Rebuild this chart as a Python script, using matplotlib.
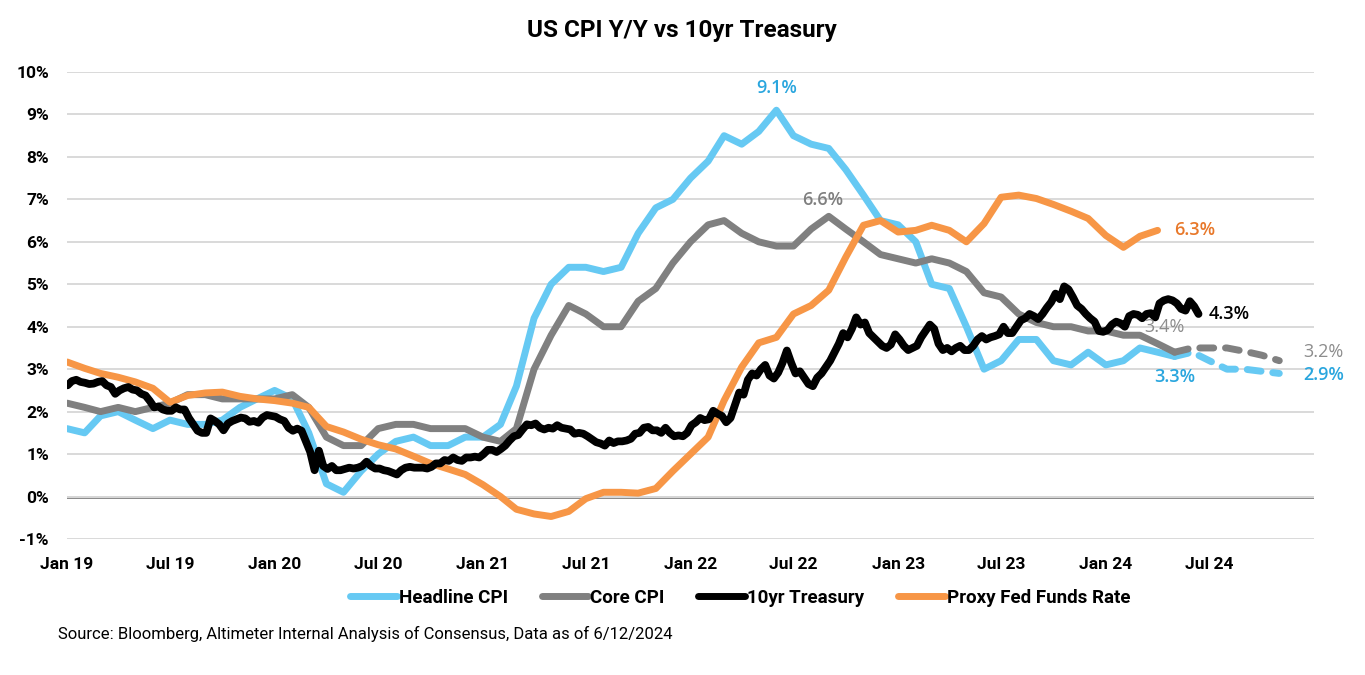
import numpy as np
import pandas as pd
import matplotlib
matplotlib.use("Agg")
import matplotlib.pyplot as plt
import matplotlib.dates as mdates
from matplotlib.lines import Line2D

plt.rcParams["font.family"] = ["Roboto", "DejaVu Sans"]

# monthly CPI y/y (%), Jan 2019 - May 2024
months = pd.date_range("2019-01-01", "2024-05-01", freq="MS")
headline_cpi = [1.6, 1.5, 1.9, 2.0, 1.8, 1.6, 1.8, 1.7, 1.7, 1.8, 2.1, 2.3,
                2.5, 2.3, 1.5, 0.3, 0.1, 0.6, 1.0, 1.3, 1.4, 1.2, 1.2, 1.4,
                1.4, 1.7, 2.6, 4.2, 5.0, 5.4, 5.4, 5.3, 5.4, 6.2, 6.8, 7.0,
                7.5, 7.9, 8.5, 8.3, 8.6, 9.1, 8.5, 8.3, 8.2, 7.7, 7.1, 6.5,
                6.4, 6.0, 5.0, 4.9, 4.0, 3.0, 3.2, 3.7, 3.7, 3.2, 3.1, 3.4,
                3.1, 3.2, 3.5, 3.4, 3.3]
core_cpi = [2.2, 2.1, 2.0, 2.1, 2.0, 2.1, 2.2, 2.4, 2.4, 2.3, 2.3, 2.3,
            2.3, 2.4, 2.1, 1.4, 1.2, 1.2, 1.6, 1.7, 1.7, 1.6, 1.6, 1.6,
            1.4, 1.3, 1.6, 3.0, 3.8, 4.5, 4.3, 4.0, 4.0, 4.6, 4.9, 5.5,
            6.0, 6.4, 6.5, 6.2, 6.0, 5.9, 5.9, 6.3, 6.6, 6.3, 6.0, 5.7,
            5.6, 5.5, 5.6, 5.5, 5.3, 4.8, 4.7, 4.3, 4.1, 4.0, 4.0, 3.9,
            3.9, 3.8, 3.8, 3.6, 3.4]

# consensus forecasts, May 2024 - Nov 2024
fcst_months = pd.date_range("2024-05-01", "2024-11-01", freq="MS")
headline_fcst = [3.3, 3.4, 3.2, 3.0, 3.0, 2.95, 2.9]
core_fcst = [3.4, 3.5, 3.5, 3.5, 3.42, 3.33, 3.2]

# proxy fed funds rate, monthly Jan 2019 - Apr 2024
fed_months = pd.date_range("2019-01-01", "2024-04-01", freq="MS")
proxy_ffr = [3.17, 3.02, 2.9, 2.81, 2.7, 2.55, 2.22, 2.38, 2.44, 2.46, 2.36, 2.3,
             2.26, 2.2, 2.1, 1.65, 1.52, 1.35, 1.22, 1.12, 0.95, 0.78, 0.65, 0.52,
             0.28, 0.0, -0.3, -0.41, -0.47, -0.35, -0.05, 0.1, 0.1, 0.08, 0.19, 0.6,
             1.0, 1.4, 2.26, 3.05, 3.62, 3.75, 4.3, 4.5, 4.86, 5.64, 6.39, 6.5,
             6.23, 6.27, 6.39, 6.27, 6.0, 6.43, 7.05, 7.1, 7.02, 6.88, 6.72, 6.55,
             6.15, 5.87, 6.13, 6.27]

# 10yr treasury, ~weekly, Jan 2019 - Jun 12 2024
ust_10y = [
    2.62, 2.72, 2.75, 2.70, 2.68, 2.65, 2.66, 2.70, 2.72, 2.62, 2.58, 2.42,
    2.50, 2.55, 2.58, 2.52, 2.50, 2.42, 2.38, 2.25, 2.10, 2.12, 2.05, 2.02,
    2.02, 2.10, 2.05, 2.05, 1.85, 1.70, 1.55, 1.50, 1.50, 1.84, 1.78, 1.70,
    1.56, 1.72, 1.78, 1.82, 1.86, 1.84, 1.76, 1.78, 1.74, 1.86, 1.92, 1.90,
    1.88, 1.82, 1.78, 1.62, 1.55, 1.60, 1.55, 1.30, 1.05, 0.62, 1.08, 0.72,
    0.65, 0.72, 0.62, 0.62, 0.65, 0.68, 0.66, 0.68, 0.72, 0.82, 0.72, 0.66,
    0.66, 0.62, 0.60, 0.56, 0.52, 0.62, 0.68, 0.70, 0.68, 0.68, 0.68, 0.66,
    0.70, 0.78, 0.78, 0.86, 0.84, 0.92, 0.86, 0.84, 0.92, 0.92, 0.94, 0.92,
    1.00, 1.10, 1.10, 1.05, 1.12, 1.20, 1.32, 1.42, 1.45, 1.58, 1.70, 1.68,
    1.72, 1.62, 1.58, 1.62, 1.60, 1.68, 1.62, 1.60, 1.58, 1.48, 1.50, 1.48,
    1.42, 1.35, 1.28, 1.25, 1.20, 1.32, 1.26, 1.30, 1.30, 1.32, 1.36, 1.48,
    1.50, 1.62, 1.64, 1.56, 1.56, 1.50, 1.62, 1.50, 1.42, 1.44, 1.42, 1.50,
    1.68, 1.75, 1.85, 1.80, 1.82, 2.02, 1.95, 1.90, 1.75, 1.85, 2.15, 2.45,
    2.40, 2.75, 2.90, 2.85, 3.00, 3.10, 2.85, 2.78, 2.92, 3.15, 3.44, 3.15,
    2.90, 2.95, 2.80, 2.65, 2.60, 2.80, 2.90, 3.05, 3.20, 3.40, 3.60, 3.85,
    3.75, 3.95, 4.22, 4.05, 4.10, 3.85, 3.75, 3.65, 3.55, 3.50, 3.58, 3.82,
    3.70, 3.55, 3.45, 3.50, 3.55, 3.75, 3.90, 4.05, 3.95, 3.60, 3.45, 3.50,
    3.42, 3.50, 3.55, 3.45, 3.45, 3.55, 3.70, 3.78, 3.70, 3.75, 3.78, 3.82,
    4.00, 3.85, 3.85, 4.00, 4.15, 4.20, 4.30, 4.25, 4.18, 4.30, 4.45, 4.58,
    4.78, 4.65, 4.95, 4.88, 4.70, 4.50, 4.42, 4.30, 4.20, 4.12, 3.90, 3.88,
    3.92, 4.05, 4.12, 4.08, 4.00, 4.25, 4.30, 4.28, 4.20, 4.30, 4.32, 4.22,
    4.55, 4.62, 4.65, 4.62, 4.55, 4.42, 4.38, 4.60, 4.48, 4.30,
]
ust_dates = pd.date_range("2019-01-02", "2024-06-12", periods=len(ust_10y))

x_ticks = pd.date_range("2019-01-01", "2024-07-01", freq="6MS")

c_head = "#66C9F3"
c_core = "#808080"
c_ust = "#000000"
c_ffr = "#F79646"

fig = plt.figure(figsize=(13.65, 6.75), dpi=100)
ax = fig.add_axes([67 / 1365, (675 - 539) / 675, (1314 - 67) / 1365, (539 - 72) / 675])

lw = 5
kw = dict(solid_joinstyle="round", solid_capstyle="round")
ax.plot(months, headline_cpi, color=c_head, lw=lw, zorder=3, **kw)
ax.plot(fcst_months, headline_fcst, color=c_head, lw=lw, ls=(0, (2.0, 1.7)),
        dash_capstyle="round", zorder=3)
ax.plot(months, core_cpi, color=c_core, lw=lw, zorder=4, **kw)
ax.plot(fcst_months, core_fcst, color=c_core, lw=lw, ls=(0, (2.0, 1.7)),
        dash_capstyle="round", zorder=4)
ax.plot(fed_months, proxy_ffr, color=c_ffr, lw=lw, zorder=5, **kw)
ax.plot(ust_dates, ust_10y, color=c_ust, lw=5.6, zorder=6, **kw)

ax.set_xlim(pd.Timestamp("2019-01-01"), pd.Timestamp("2025-01-01"))
ax.set_ylim(-1, 10)
ax.set_yticks(range(-1, 11))
ax.set_yticklabels([f"{v}%" for v in range(-1, 11)])
ax.set_xticks(x_ticks)
ax.xaxis.set_major_formatter(mdates.DateFormatter("%b %y"))
ax.yaxis.grid(True, color="#d9d9d9", lw=1.4, zorder=0)
ax.axhline(0, color="#7f7f7f", lw=2, zorder=1)
for s in ax.spines.values():
    s.set_visible(False)
ax.tick_params(axis="both", length=0, labelsize=12.5)
ax.tick_params(axis="y", pad=13)
ax.tick_params(axis="x", pad=13)
for lab in ax.get_xticklabels() + ax.get_yticklabels():
    lab.set_fontweight("bold")

# value labels
lab_font = ["Open Sans", "DejaVu Sans"]
def tag(x, y, text, color, dx, dy, ha="center", weight="semibold"):
    ax.annotate(text, (x, y), xytext=(dx, dy), textcoords="offset points",
                ha=ha, va="center", color=color, fontsize=13,
                fontweight=weight, family=lab_font, zorder=10)

tag(months[41], headline_cpi[41], "9.1%", "#2AA6DE", 0, 16)
tag(months[44], core_cpi[44], "6.6%", "#7f7f7f", -4, 12)
tag(fed_months[-1], proxy_ffr[-1], "6.3%", "#E8782A", 12, 0, ha="left")
tag(ust_dates[-1], ust_10y[-1], "4.3%", "#000000", 7, 0, ha="left")
tag(months[-1], core_cpi[-1], "3.4%", "#8c8c8c", -7, 18, weight="normal")
tag(months[-1], headline_cpi[-1], "3.3%", "#2AA6DE", 0, -15)
tag(fcst_months[-1], core_fcst[-1], "3.2%", "#8c8c8c", 17, 6, ha="left", weight="normal")
tag(fcst_months[-1], headline_fcst[-1], "2.9%", "#2AA6DE", 17, -1, ha="left")

fig.text(682 / 1365, 1 - 31 / 675, "US CPI Y/Y vs 10yr Treasury", ha="center",
         va="center", fontsize=17.5, fontweight="bold")

handles = [Line2D([], [], color=c, lw=5, solid_capstyle="round")
           for c in (c_head, c_core, c_ust, c_ffr)]
names = ["Headline CPI", "Core CPI", "10yr Treasury", "Proxy Fed Funds Rate"]
fig.legend(handles, names, loc="center", bbox_to_anchor=(740 / 1365, 1 - 598 / 675),
           ncol=4, frameon=False, handlelength=2.5, handletextpad=0.1,
           columnspacing=1.8, prop=dict(size=13.5, weight="bold"))

fig.text(58 / 1365, 1 - 634 / 675,
         "Source: Bloomberg, Altimeter Internal Analysis of Consensus, Data as of 6/12/2024",
         ha="left", va="center", fontsize=12)

fig.savefig("out.png", dpi=100)
